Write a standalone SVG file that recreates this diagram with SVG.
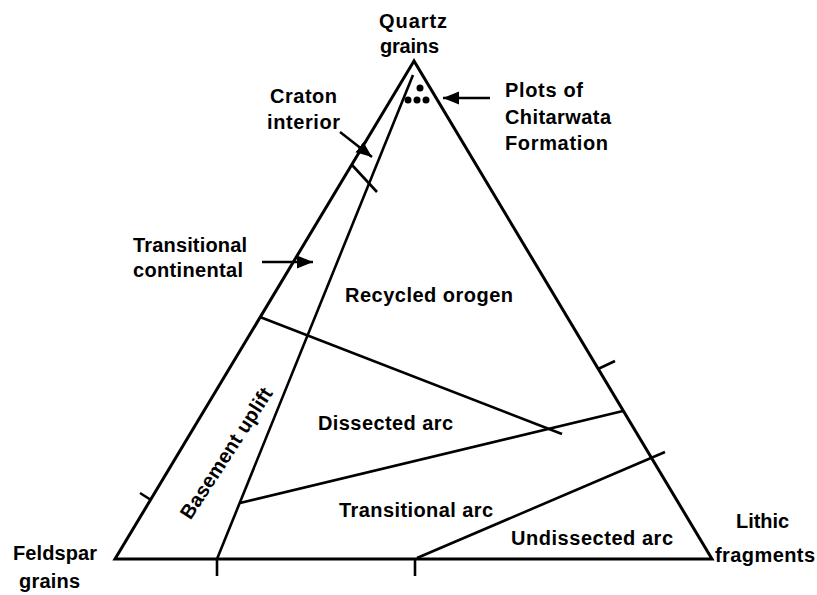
<svg xmlns="http://www.w3.org/2000/svg" width="817" height="595" viewBox="0 0 817 595">
<style>
  .lbl { font-family: "Liberation Sans", Arial, sans-serif; font-weight: bold; font-size: 20px; fill: #000; }
  .edge { fill: none; stroke: #000; stroke-width: 3; stroke-linejoin: miter; }
  .ln { fill: none; stroke: #000; stroke-width: 2.6; stroke-linecap: butt; }
  .arr { fill: none; stroke: #000; stroke-width: 2.5; marker-end: url(#ah); }
</style>
<defs>
  <marker id="ah" markerUnits="userSpaceOnUse" markerWidth="18" markerHeight="14" refX="16" refY="6.5" orient="auto">
    <path d="M0,0 L16,6.5 L0,13 z" fill="#000"/>
  </marker>
</defs>
<rect width="817" height="595" fill="#fff"/>

<g id="triangle">
  <polygon class="edge" points="414,61 115,559 712,559"/>
</g>

<g id="connectors">
  <line class="ln" x1="413" y1="75" x2="217" y2="559"/>
  <line class="ln" x1="260" y1="317" x2="562" y2="434"/>
  <line class="ln" x1="240" y1="503" x2="623" y2="411"/>
  <line class="ln" x1="417" y1="558" x2="665" y2="452"/>
  <line class="ln" x1="352" y1="165" x2="377" y2="192"/>
  <line class="ln" x1="151" y1="500" x2="140" y2="493"/>
  <line class="ln" x1="598" y1="369" x2="615" y2="361"/>
  <line class="ln" x1="217" y1="559" x2="217" y2="576"/>
  <line class="ln" x1="415" y1="559" x2="415" y2="576"/>
  <line class="arr" x1="340" y1="132" x2="372" y2="157"/>
  <line class="arr" x1="262" y1="262" x2="313" y2="262"/>
  <line class="arr" x1="490" y1="98" x2="443" y2="98"/>
</g>

<g id="plots">
  <circle cx="420" cy="88" r="3.5"/>
  <circle cx="408" cy="100" r="3.5"/>
  <circle cx="417" cy="100" r="3.5"/>
  <circle cx="426" cy="100" r="3.5"/>
</g>

<g id="quartz">
  <text class="lbl" x="379" y="28" textLength="68" lengthAdjust="spacing">Quartz</text>
  <text class="lbl" x="380" y="53" textLength="59" lengthAdjust="spacing">grains</text>
</g>
<g id="craton">
  <text class="lbl" x="270" y="103" textLength="67" lengthAdjust="spacing">Craton</text>
  <text class="lbl" x="267" y="129" textLength="73" lengthAdjust="spacing">interior</text>
</g>
<g id="plots-label">
  <text class="lbl" x="505" y="97" textLength="78" lengthAdjust="spacing">Plots of</text>
  <text class="lbl" x="505" y="124" textLength="106" lengthAdjust="spacing">Chitarwata</text>
  <text class="lbl" x="505" y="150" textLength="103" lengthAdjust="spacing">Formation</text>
</g>
<g id="transitional-continental">
  <text class="lbl" x="133" y="252" textLength="114" lengthAdjust="spacing">Transitional</text>
  <text class="lbl" x="133" y="277" textLength="110" lengthAdjust="spacing">continental</text>
</g>
<g id="recycled-orogen">
  <text class="lbl" x="345" y="302" textLength="168" lengthAdjust="spacing">Recycled orogen</text>
</g>
<g id="dissected-arc">
  <text class="lbl" x="318" y="430" textLength="135" lengthAdjust="spacing">Dissected arc</text>
</g>
<g id="transitional-arc">
  <text class="lbl" x="339" y="517" textLength="154" lengthAdjust="spacing">Transitional arc</text>
</g>
<g id="undissected-arc">
  <text class="lbl" x="511" y="545" textLength="162" lengthAdjust="spacing">Undissected arc</text>
</g>
<g id="basement-uplift">
  <text class="lbl" x="0" y="0" text-anchor="middle" textLength="152" lengthAdjust="spacing" transform="translate(232,457) rotate(-57)">Basement uplift</text>
</g>
<g id="lithic">
  <text class="lbl" x="736" y="528" textLength="53" lengthAdjust="spacing">Lithic</text>
  <text class="lbl" x="715" y="562" textLength="100" lengthAdjust="spacing">fragments</text>
</g>
<g id="feldspar">
  <text class="lbl" x="13" y="560" textLength="84" lengthAdjust="spacing">Feldspar</text>
  <text class="lbl" x="19" y="588" textLength="61" lengthAdjust="spacing">grains</text>
</g>
</svg>
